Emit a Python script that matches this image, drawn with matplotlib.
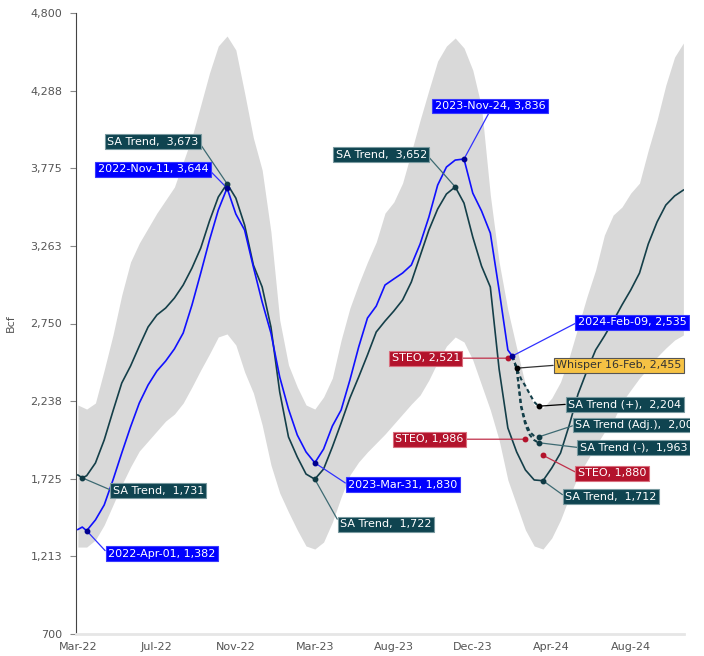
import numpy as np
import matplotlib.pyplot as plt
import matplotlib.dates as mdates
from matplotlib.transforms import Bbox

# weekly storage reports, counted in weeks from the first Friday shown
first_week = np.datetime64('2022-03-18')


def to_num(weeks):
    return mdates.date2num(first_week + np.asarray(weeks) * np.timedelta64(7, 'D'))


# five year range, every other week
band_weeks = np.arange(0, 139, 2)
band_high = [2212, 2185, 2225, 2443, 2674, 2938, 3156, 3281, 3380, 3479,
             3565, 3651, 3816, 3981, 4192, 4404, 4582, 4648, 4556, 4272,
             3975, 3763, 3354, 2773, 2476, 2331, 2212, 2185, 2265, 2390,
             2641, 2852, 3011, 3156, 3288, 3479, 3552, 3677, 3882, 4093,
             4291, 4483, 4582, 4635, 4569, 4423, 4179, 3598, 3156, 2839,
             2588, 2344, 2212, 2192, 2258, 2364, 2529, 2727, 2925, 3103,
             3334, 3466, 3519, 3611, 3677, 3895, 4093, 4324, 4509, 4602]
band_low = [1274, 1274, 1321, 1420, 1552, 1684, 1803, 1908, 1974, 2040,
            2106, 2152, 2225, 2331, 2443, 2549, 2661, 2681, 2608, 2430,
            2291, 2080, 1816, 1631, 1505, 1387, 1281, 1261, 1307, 1439,
            1604, 1750, 1836, 1902, 1961, 2020, 2086, 2152, 2218, 2278,
            2377, 2496, 2601, 2661, 2628, 2509, 2344, 2179, 1981, 1717,
            1552, 1387, 1281, 1261, 1334, 1453, 1604, 1743, 1842, 1941,
            2033, 2106, 2231, 2311, 2390, 2456, 2529, 2588, 2641, 2674]

# seasonally adjusted trend
trend_weeks = np.r_[0, 1, np.arange(2, 139, 2)]
trend = [1750, 1731, 1745, 1829, 1981, 2172, 2357, 2469, 2601, 2727, 2806,
         2852, 2918, 3004, 3116, 3248, 3427, 3585, 3673, 3578, 3400,
         3136, 2991, 2727, 2298, 2001, 1869, 1756, 1722, 1789, 1935,
         2093, 2258, 2397, 2542, 2694, 2766, 2832, 2905, 3024, 3196,
         3367, 3506, 3605, 3652, 3545, 3321, 3129, 2991, 2450, 2060,
         1902, 1783, 1717, 1712, 1796, 1895, 2080, 2285, 2436, 2575,
         2667, 2766, 2872, 2971, 3083, 3275, 3420, 3532, 3592, 3631]

# reported working gas in storage
storage_weeks = np.r_[0, 1, np.arange(2, 99, 2), 99]
storage = [1390, 1406, 1382, 1453, 1552, 1717, 1895, 2067, 2225, 2344, 2436,
           2502, 2582, 2687, 2872, 3083, 3301, 3499, 3644, 3473, 3367,
           3123, 2892, 2687, 2397, 2185, 2014, 1902, 1830, 1921, 2073,
           2179, 2377, 2595, 2786, 2865, 3004, 3044, 3083, 3136, 3275,
           3453, 3664, 3783, 3829, 3836, 3611, 3493, 3347, 2971, 2575, 2535]

# projections off the last report
proj_weeks = np.arange(99, 106)
proj_plus = [2535, 2455, 2384, 2337, 2284, 2232, 2204]
proj_adj = [2535, 2455, 2212, 2100, 2034, 2007, 2001]
proj_minus = [2535, 2455, 2200, 2080, 2014, 1980, 1963]

whisper_week, whisper = 100, 2455
steo_weeks = [98, 102, 106]
steo = [2521, 1986, 1880]

tick_weeks = np.arange(0, 127, 18)
y_ticks = np.linspace(700, 4800, 9)
y_labels = ['700', '1,213', '1,725', '2,238', '2,750', '3,263', '3,775', '4,288', '4,800']

TEAL = '#143f49'
BLUE = '#1010ff'
RED = '#b3132c'
GOLD = '#f6c244'
BAND = '#d9d9d9'

styles = {
    'trend': dict(fc='#0f4450', ec='#7a9aa0', tc='white', lc='#3d6a72', dot='#0f3a44'),
    'storage': dict(fc='#0000ff', ec='#3a3aff', tc='white', lc='#3030ff', dot='#000090'),
    'steo': dict(fc='#b3132c', ec='#d9707f', tc='white', lc='#c0304a', dot=RED),
    'whisper': dict(fc=GOLD, ec='#555555', tc='#333333', lc='#333333', dot='black'),
    'plus': dict(fc='#0f4450', ec='#7a9aa0', tc='white', lc='black', dot='black'),
}

# text, week, value, label offset (px), style
notes = [
    ('SA Trend,  3,673', 34, 3673, -74, 42, 'trend'),
    ('2022-Nov-11, 3,644', 34, 3644, -74, 19, 'storage'),
    ('SA Trend,  1,731', 1, 1731, 76, -13, 'trend'),
    ('2022-Apr-01, 1,382', 2, 1382, 75, -23, 'storage'),
    ('SA Trend,  3,652', 86, 3652, -74, 32, 'trend'),
    ('2023-Nov-24, 3,836', 88, 3836, 26, 53, 'storage'),
    ('2023-Mar-31, 1,830', 54, 1830, 88, -22, 'storage'),
    ('SA Trend,  1,722', 54, 1722, 71, -45, 'trend'),
    ('STEO, 2,521', 98, 2521, -82, 0, 'steo'),
    ('2024-Feb-09, 2,535', 99, 2535, 120, 34, 'storage'),
    ('Whisper 16-Feb, 2,455', whisper_week, whisper, 102, 3, 'whisper'),
    ('SA Trend (+),  2,204', 105, 2204, 86, 2, 'plus'),
    ('SA Trend (Adj.),  2,001', 105, 2001, 99, 12, 'trend'),
    ('SA Trend (-),  1,963', 105, 1963, 95, -5, 'trend'),
    ('STEO, 1,986', 102, 1986, -96, 0, 'steo'),
    ('STEO, 1,880', 106, 1880, 69, -18, 'steo'),
    ('SA Trend,  1,712', 106, 1712, 68, -16, 'trend'),
]

fig = plt.figure(figsize=(7.04, 6.56), dpi=100)
ax = fig.add_axes([76 / 704, 22 / 656, 608 / 704, 621 / 656])

ax.fill_between(to_num(band_weeks), band_low, band_high, color=BAND, lw=0, zorder=1)
ax.plot(to_num(trend_weeks), trend, color=TEAL, lw=1.2, zorder=3)
ax.plot(to_num(storage_weeks), storage, color=BLUE, lw=1.2, zorder=4)
for vals in (proj_plus, proj_adj, proj_minus):
    ax.plot(to_num(proj_weeks), vals, color=TEAL, lw=1.5, ls=(0, (2, 1.5)), zorder=3)
ax.scatter(to_num(steo_weeks), steo, s=7, color=RED, zorder=5)

clip = Bbox([[0, 0], [690, 656]])
for text, wk, val, dx, dy, kind in notes:
    st = styles[kind]
    if abs(dx) < 40:
        rel = (0.5, 0)
    elif dx > 0:
        rel = (0, 0.5)
    else:
        rel = (1, 0.5)
    an = ax.annotate(text, xy=(to_num(wk), val), xytext=(dx, dy),
                     textcoords='offset pixels', ha='center', va='center',
                     fontsize=8, color=st['tc'], zorder=6,
                     bbox=dict(boxstyle='square,pad=0.22', fc=st['fc'], ec=st['ec'], lw=0.8),
                     arrowprops=dict(arrowstyle='-', color=st['lc'], lw=0.9,
                                     relpos=rel, shrinkA=0, shrinkB=0))
    an.set_clip_box(clip)
    an.set_clip_on(True)
    ax.plot(to_num(wk), val, 'o', ms=3.2, color=st['dot'], zorder=7)

ax.set_ylim(700, 4800)
ax.set_xlim(to_num(0) - 3, to_num(138) + 1)
ax.set_yticks(y_ticks)
ax.set_yticklabels(y_labels)
ax.set_xticks(to_num(tick_weeks))
ax.xaxis.set_major_formatter(mdates.DateFormatter('%b-%y'))

for s in ('top', 'right'):
    ax.spines[s].set_visible(False)
ax.spines['left'].set_color('#444444')
ax.spines['left'].set_linewidth(0.8)
ax.spines['bottom'].set_color('#e6e6e6')
ax.spines['bottom'].set_linewidth(2)
ax.tick_params(axis='x', length=0, pad=6, labelsize=8, labelcolor='#555555')
ax.tick_params(axis='y', length=4, width=0.8, color='#888888', pad=6,
               labelsize=8, labelcolor='#555555')
ax.set_ylabel('Bcf', fontsize=8, color='#555555')
ax.yaxis.set_label_coords(-0.099, 0.5)

fig.savefig('out.png', dpi=100)
